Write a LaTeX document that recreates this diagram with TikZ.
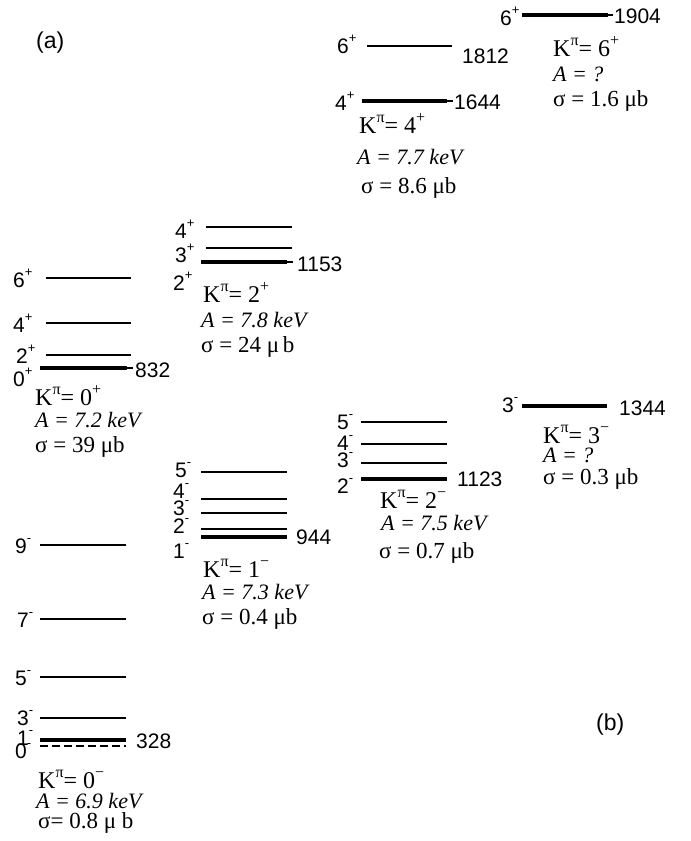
\documentclass[tikz,border=0pt]{standalone}
\usepackage{fontspec}
\setmainfont{Liberation Serif}
\newfontfamily\lblfont{Liberation Sans}
% raised small superscript used for spins and parities
\newcommand\sps[1]{\raisebox{0.5em}{\fontsize{13}{13}\selectfont #1}}
% superscript for the K^pi band labels
\newcommand\ksp[1]{\raisebox{0.42em}{\fontsize{16}{16}\selectfont #1}}
\begin{document}
\begin{tikzpicture}[x=1pt,y=-1pt,
  lvl/.style={line width=1.5pt},
  head/.style={line width=4pt},
  dashlvl/.style={line width=1.5pt,dash pattern=on 8pt off 4pt},
  spin/.style={font=\lblfont\fontsize{21}{21}\selectfont,anchor=base west,inner sep=0pt},
  note/.style={font=\fontsize{23}{23}\selectfont,anchor=base west,inner sep=0pt},
  knote/.style={note,font=\fontsize{24}{24}\selectfont},
  notei/.style={note,font=\fontsize{22}{22}\selectfont\itshape}]
\useasboundingbox (0,0) rectangle (691,841);

% panel tags
\node[spin,font=\lblfont\fontsize{23}{23}\selectfont] (tagA) at (36,48) {(a)};
\node[spin,font=\lblfont\fontsize{23}{23}\selectfont] (tagB) at (596,730) {(b)};

% ---- K = 0+ band ----
\draw[lvl] (46,278) -- (131,278);
\draw[lvl] (46,323) -- (131,323);
\draw[lvl] (46,355) -- (131,355);
\draw[head] (40,368) -- (127,368);
\draw[lvl] (127,368) -- (133,368);
\node[spin] (a6) at (13,287) {6\sps{+}};
\node[spin] (a4) at (13,332) {4\sps{+}};
\node[spin] (a2) at (16,363) {2\sps{+}};
\node[spin] (a0) at (13,386) {0\sps{+}};
\node[spin] (aE) at (135,377) {832};
\node[knote] (aK) at (35,405) {K\ksp{π}= 0\ksp{+}};
\node[notei] (aA) at (35,427) {A = 7.2 keV};
\node[note] (aS) at (35,452) {σ = 39 μb};

% ---- K = 2+ band ----
\draw[lvl] (206,227) -- (292,227);
\draw[lvl] (206,248) -- (292,248);
\draw[head] (201,262) -- (287,262);
\draw[lvl] (287,262) -- (293,262);
\node[spin] (b4) at (175,238) {4\sps{+}};
\node[spin] (b3) at (175,262) {3\sps{+}};
\node[spin] (b2) at (173,290) {2\sps{+}};
\node[spin] (bE) at (297,271) {1153};
\node[knote] (bK) at (203,302) {K\ksp{π}= 2\ksp{+}};
\node[notei] (bA) at (201,327) {A = 7.8 keV};
\node[note] (bS) at (201,352) {σ = 24 μ\,b};

% ---- K = 1- band ----
\draw[lvl] (201,472) -- (287,472);
\draw[lvl] (201,499) -- (287,499);
\draw[lvl] (201,513) -- (287,513);
\draw[lvl] (201,529) -- (287,529);
\draw[head] (201,537) -- (287,537);
\node[spin] (c5) at (175,477) {5\sps{-}};
\node[spin] (c4) at (173,498) {4\sps{-}};
\node[spin] (c3) at (173,515) {3\sps{-}};
\node[spin] (c2) at (173,533) {2\sps{-}};
\node[spin] (c1) at (173,558) {1\sps{-}};
\node[spin] (cE) at (296,544) {944};
\node[knote] (cK) at (203,577) {K\ksp{π}= 1\ksp{−}};
\node[notei] (cA) at (202,599) {A = 7.3 keV};
\node[note] (cS) at (202,624) {σ = 0.4 μb};

% ---- K = 2- band ----
\draw[lvl] (361,422) -- (447,422);
\draw[lvl] (361,444) -- (447,444);
\draw[lvl] (361,463) -- (447,463);
\draw[head] (361,479) -- (447,479);
\node[spin] (d5) at (337,429) {5\sps{-}};
\node[spin] (d4) at (337,450) {4\sps{-}};
\node[spin] (d3) at (337,467) {3\sps{-}};
\node[spin] (d2) at (337,493) {2\sps{-}};
\node[spin] (dE) at (457,486) {1123};
\node[knote] (dK) at (380,508) {K\ksp{π}= 2\ksp{−}};
\node[notei] (dA) at (381,530) {A = 7.5 keV};
\node[note] (dS) at (379,558) {σ = 0.7 μb};

% ---- K = 3- band ----
\draw[head] (522,406) -- (607,406);
\node[spin] (e3) at (502,412) {3\sps{-}};
\node[spin] (eE) at (619,415) {1344};
\node[knote] (eK) at (543,443) {K\ksp{π}= 3\ksp{−}};
\node[notei] (eA) at (543,462) {A = ?};
\node[note] (eS) at (543,484) {σ = 0.3 μb};

% ---- K = 4+ band ----
\draw[lvl] (367,46) -- (452,46);
\draw[head] (362,101) -- (447,101);
\draw[lvl] (447,101) -- (453,101);
\node[spin] (f6) at (337,53) {6\sps{+}};
\node[spin] (f4) at (335,110) {4\sps{+}};
\node[spin] (fE6) at (462,63) {1812};
\node[spin] (fE4) at (454,109) {1644};
\node[knote] (fK) at (359,133) {K\ksp{π}= 4\ksp{+}};
\node[notei] (fA) at (357,164) {A = 7.7 keV};
\node[note] (fS) at (361,193) {σ = 8.6 μb};

% ---- K = 6+ band ----
\draw[head] (522,15) -- (608,15);
\draw[lvl] (608,15) -- (613,15);
\node[spin] (g6) at (500,25) {6\sps{+}};
\node[spin] (gE) at (614,23) {1904};
\node[knote] (gK) at (553,56) {K\ksp{π}= 6\ksp{+}};
\node[notei] (gA) at (553,81) {A = ?};
\node[note] (gS) at (553,106) {σ = 1.6 μb};

% ---- K = 0- band ----
\draw[lvl] (40,545) -- (126,545);
\draw[lvl] (40,619) -- (126,619);
\draw[lvl] (40,677) -- (126,677);
\draw[lvl] (40,718) -- (126,718);
\draw[head] (40,740) -- (126,740);
\draw[dashlvl] (40,746) -- (126,746);
\node[spin] (h9) at (15,553) {9\sps{-}};
\node[spin] (h7) at (17,627) {7\sps{-}};
\node[spin] (h5) at (15,685) {5\sps{-}};
\node[spin] (h3) at (17,725) {3\sps{-}};
\node[spin] (h1) at (17,745) {1\sps{-}};
\node[spin] (h0) at (15,758) {0\sps{-}};
\node[spin] (hE) at (136,748) {328};
\node[knote] (hK) at (38,788) {K\ksp{π}= 0\ksp{−}};
\node[notei] (hA) at (36,808) {A = 6.9 keV};
\node[note] (hS) at (38,828) {σ= 0.8 μ b};
\end{tikzpicture}
\end{document}
